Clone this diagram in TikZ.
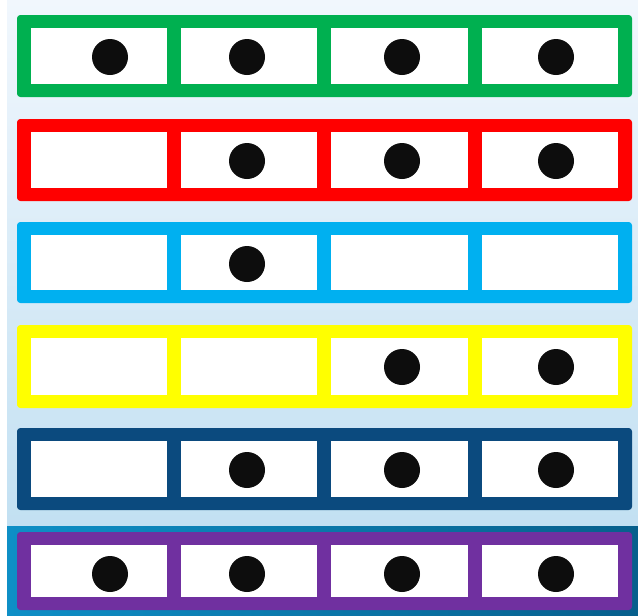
\documentclass[tikz,border=0pt]{standalone}
\begin{document}
\begin{tikzpicture}[x=0.75pt,y=-0.75pt,
  dot/.style={circle,fill=black!95,inner sep=0pt,minimum size=27pt},
  cellbox/.style={fill=white}]
\definecolor{bgtop}{HTML}{F1F7FD}
\definecolor{bgbot}{HTML}{C2E0F2}
\definecolor{bandL}{HTML}{0E8FC6}
\definecolor{bandR}{HTML}{075F8C}
\definecolor{cgreen}{HTML}{00B050}
\definecolor{cred}{HTML}{FF0000}
\definecolor{cblue}{HTML}{00B0F0}
\definecolor{cyellow}{HTML}{FFFF00}
\definecolor{cnavy}{HTML}{0B4A7E}
\definecolor{cpurple}{HTML}{7030A0}
\useasboundingbox (0,0) rectangle (638,615);
% background
\fill[white] (0,0) rectangle (638,615);
\shade[top color=bgtop,bottom color=bgbot] (7,0) rectangle (638,526);
\shade[left color=bandL,right color=bandR] (7,526) rectangle (638,615);
% rows: top y, height, colour, dots (cell indices)
\foreach \t/\h/\c/\dots [count=\r] in {15/82/cgreen/{1,2,3,4},119/82/cred/{2,3,4},222/81/cblue/{2},325/83/cyellow/{3,4},428/82/cnavy/{2,3,4},532/78/cpurple/{1,2,3,4}}{
  \fill[\c,rounded corners=2.5] (17,\t) rectangle (632,\t+\h);
  \foreach \xa/\xb in {31/167,181/317,331/468,482/618}{
    \fill[cellbox] (\xa,\t+13) rectangle (\xb,\t+\h-13);
  }
  \foreach \k in \dots {
    \pgfmathsetmacro{\dx}{{0,110,247,402,556}[\k]}
    \node[dot] (d\r-\k) at (\dx,\t+42) {};
  }
}
\end{tikzpicture}
\end{document}
